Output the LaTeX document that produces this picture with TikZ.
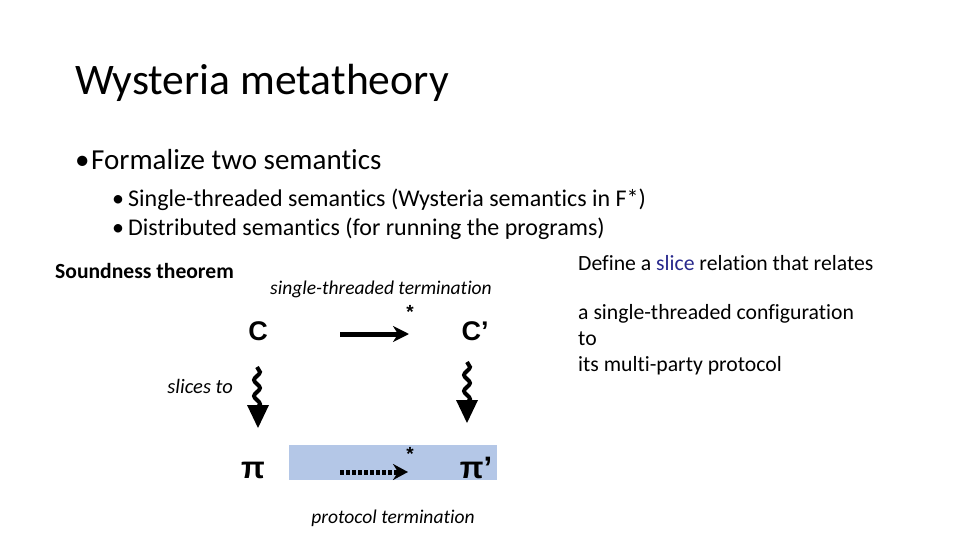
\documentclass[tikz,border=0pt]{standalone}
\usepackage{fontspec}
\setmainfont[Ligatures=NoCommon]{Carlito}
\newfontfamily\arialb{Liberation Sans}
\usetikzlibrary{decorations.pathmorphing,arrows.meta}
\definecolor{slicecol}{RGB}{40,40,140}
\definecolor{boxblue}{RGB}{180,199,231}
\begin{document}
\begin{tikzpicture}[x=1pt,y=-1pt,
  txt/.style={anchor=base west,inner sep=0pt},
  big/.style={font=\arialb\bfseries\fontsize{27}{30}\selectfont,inner sep=0pt,anchor=base},
  bigpi/.style={font=\arialb\bfseries\fontsize{31}{34}\selectfont,inner sep=0pt,anchor=base},
  star/.style={font=\arialb\bfseries\fontsize{19}{22}\selectfont,inner sep=0pt,anchor=base},
  ital/.style={font=\itshape\fontsize{19.5}{23}\selectfont,inner sep=0pt,anchor=base},
  wavy/.style={line width=4pt,decorate,decoration={snake,amplitude=3pt,segment length=16pt}},
  rtxt/.style={txt,font=\fontsize{21.7}{26}\selectfont}
]
\useasboundingbox (0,0) rectangle (960,540);
\node[txt,font=\fontsize{43.6}{48}\selectfont] (title) at (75,95) {Wysteria metatheory};
\node[txt,font=\fontsize{29}{32}\selectfont] (b1) at (75,170) {\makebox[16pt][l]{\textbullet}Formalize two semantics};
\node[txt,font=\fontsize{24}{28}\selectfont] (b2) at (112,206) {\makebox[16pt][l]{\textbullet}Single-threaded semantics (Wysteria semantics in F*)};
\node[txt,font=\fontsize{24}{28}\selectfont] (b3) at (112,235) {\makebox[16pt][l]{\textbullet}Distributed semantics (for running the programs)};
\node[txt,font=\bfseries\fontsize{21.6}{25}\selectfont] (sound) at (55,278) {Soundness theorem};
\node[ital] (stt) at (381,294) {single-threaded termination};
\fill[boxblue] (289,445) rectangle (497,480);
\node[big] (C) at (258,340) {C};
\node[big] (Cp) at (475,340) {C’};
\node[bigpi] (pi) at (253,478) {π};
\node[bigpi] (pip) at (476,478) {π’};
\node[star] (s1) at (410,318) {*};
\node[star] (s2) at (410,460) {*};
\coordinate (a1) at (340,334);
\coordinate (a2) at (409,334);
\draw[line width=5pt,-{Stealth[length=16pt,width=16pt,inset=5pt]}] (a1) -- (a2);
\coordinate (d1) at (340,472);
\coordinate (d2) at (408,472);
\draw[line width=5pt,dash pattern=on 4pt off 2pt,-{Stealth[length=15pt,width=16pt,inset=5pt]}] (d1) -- (d2);
\coordinate (w1) at (257,367);
\coordinate (w2) at (257,409);
\coordinate (w3) at (467,362);
\coordinate (w4) at (467,404);
\draw[wavy] (w1) -- (w2);
\fill (247,405) -- (269,405) -- (258,428) -- cycle;
\draw[wavy] (w3) -- (w4);
\fill (456,400) -- (478,400) -- (467,423) -- cycle;
\node[ital,font=\itshape\fontsize{20.5}{24}\selectfont,anchor=base east] (slices) at (233,393) {slices to};
\node[ital] (pt) at (393,523) {protocol termination};
\node[rtxt] (r1) at (578,270) {Define a \textcolor{slicecol}{slice} relation that relates};
\node[rtxt] (r2) at (578,319) {a single-threaded configuration};
\node[rtxt] (r3) at (578,345) {to};
\node[rtxt] (r4) at (578,371) {its multi-party protocol};
\end{tikzpicture}
\end{document}
